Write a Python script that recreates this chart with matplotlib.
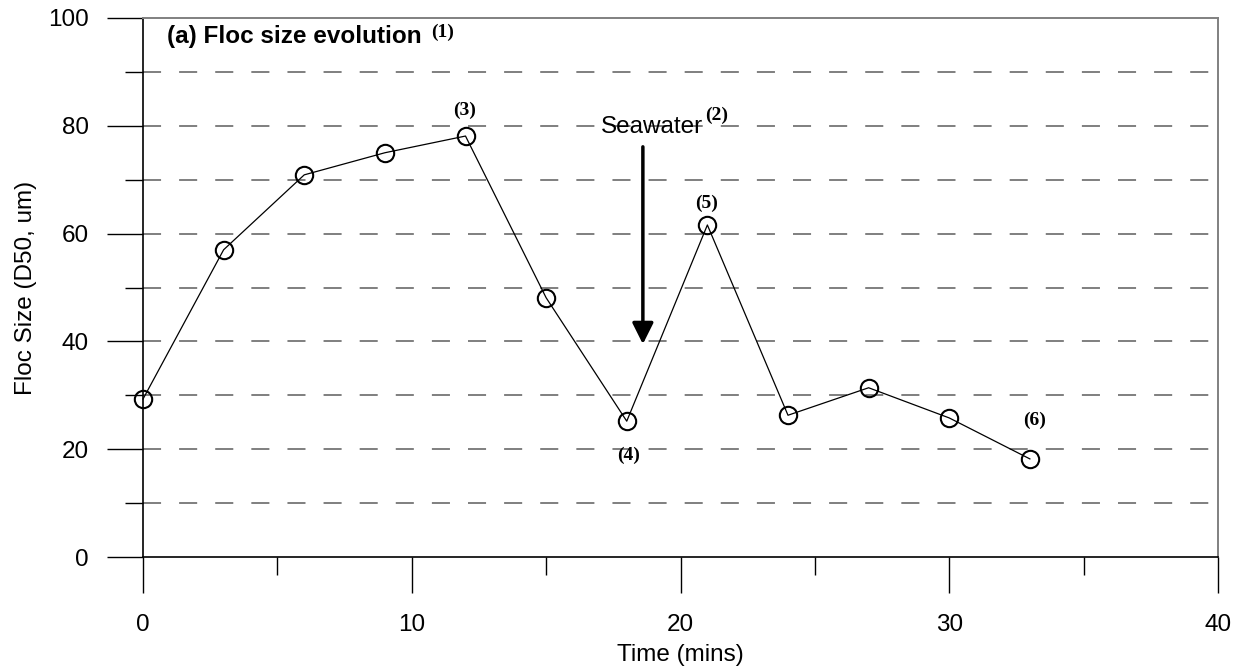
import matplotlib
matplotlib.use("Agg")
import matplotlib.pyplot as plt
from matplotlib.ticker import MultipleLocator

# ---- data ----
time_min = [0, 3, 6, 9, 12, 15, 18, 21, 24, 27, 30, 33]
floc_d50 = [29.3, 57.0, 70.9, 75.0, 78.1, 48.1, 25.2, 61.6, 26.3, 31.4, 25.8, 18.2]
x_ticks = [0, 10, 20, 30, 40]
y_ticks = [0, 20, 40, 60, 80, 100]
point_labels = ["(3)", "(4)", "(5)", "(6)"]
point_label_pos = [(11.96, 82.9), (18.07, 18.9), (20.97, 65.6), (33.17, 25.4)]

plt.rcParams['lines.scale_dashes'] = False
SANS = ['Liberation Sans', 'DejaVu Sans']
SERIF = ['Liberation Serif', 'DejaVu Serif']

fig = plt.figure(figsize=(12.42, 6.69), dpi=100)
ax = fig.add_axes([143/1242, 1-557/669, (1218-143)/1242, (557-18)/669])

ax.plot(time_min, floc_d50, color='black', lw=0.9, marker='o', ms=12.5,
        mfc='none', mec='black', mew=1.5, clip_on=False, zorder=5)

ax.set_xlim(0, 40)
ax.set_ylim(0, 100)
ax.set_xticks(x_ticks)
ax.set_yticks(y_ticks)
ax.xaxis.set_minor_locator(MultipleLocator(5))
ax.yaxis.set_minor_locator(MultipleLocator(10))

for lbl in ax.get_xticklabels() + ax.get_yticklabels():
    lbl.set_fontfamily(SANS)
    lbl.set_fontsize(17.5)

ax.tick_params(axis='both', which='major', length=26, width=1.0, color='black')
ax.tick_params(axis='both', which='minor', length=13, width=1.0, color='black')
ax.tick_params(axis='x', which='major', pad=15)
ax.tick_params(axis='y', which='major', pad=13)
# top tick of y is gray like the frame
ax.yaxis.get_major_ticks()[-1].tick1line.set_color('#808080')

# dashed horizontal grid at every 10 (except frame lines)
for yv in range(10, 100, 10):
    ax.axhline(yv, color='#7f7f7f', lw=1.4, dashes=(13, 13), zorder=1)

for s in ['left', 'bottom']:
    ax.spines[s].set_color('black')
    ax.spines[s].set_linewidth(1.2)
for s in ['top', 'right']:
    ax.spines[s].set_color('#808080')
    ax.spines[s].set_linewidth(1.4)

ax.set_xlabel('Time (mins)', fontsize=17.5, family=SANS, labelpad=6)
ax.set_ylabel('Floc Size (D50, um)', fontsize=17.5, family=SANS, labelpad=8)

# title text inside
ax.text(0.89, 95.45, '(a) Floc size evolution', fontsize=17.5, fontweight='bold',
        family=SANS, ha='left', va='baseline')
ax.text(10.72, 97.3, '(1)', fontsize=14, fontweight='bold', family=SERIF,
        ha='left', va='center')

# seawater annotation
ax.text(18.95, 78.6, 'Seawater', fontsize=17.5, family=SANS, ha='center', va='baseline')
ax.text(20.91, 82.0, '(2)', fontsize=14, fontweight='bold', family=SERIF,
        ha='left', va='center')
ax.annotate('', xy=(18.6, 39.5), xytext=(18.6, 76.1),
            arrowprops=dict(arrowstyle='-|>,head_length=0.4,head_width=0.2',
                            lw=2.5, color='black', mutation_scale=32,
                            shrinkA=0, shrinkB=0))

for lab, (px, py) in zip(point_labels, point_label_pos):
    ax.text(px, py, lab, fontsize=14, fontweight='bold', family=SERIF,
            ha='center', va='center')

fig.savefig('out.png', dpi=100)
